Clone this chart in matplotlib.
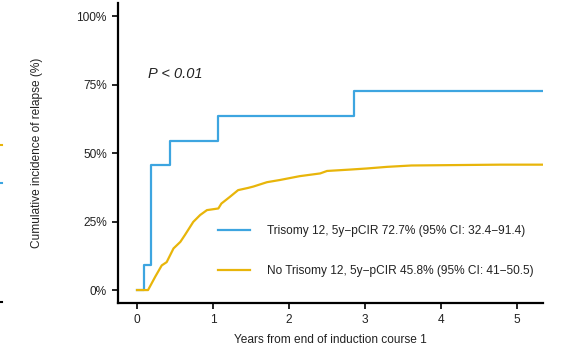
import matplotlib
matplotlib.use("Agg")
import matplotlib.pyplot as plt
from matplotlib.lines import Line2D

plt.rcParams['font.family'] = ['Liberation Sans', 'DejaVu Sans']

# Trisomy 12 cumulative incidence (step function)
tri_years = [0.0, 0.09, 0.18, 0.19, 0.43, 1.07, 2.85, 5.34]
tri_cir = [0.0, 9.1, 18.2, 45.5, 54.5, 63.6, 72.7, 72.7]

# No trisomy 12 cumulative incidence
no_years = [0.0, 0.145, 0.24, 0.325, 0.39, 0.48, 0.57, 0.63, 0.74, 0.83, 0.92,
            1.07, 1.11, 1.22, 1.33, 1.46, 1.53, 1.71, 1.88, 2.14, 2.41, 2.50,
            2.80, 3.02, 3.29, 3.61, 4.78, 5.34]
no_cir = [0.0, 0.0, 4.9, 9.0, 10.2, 15.2, 17.6, 20.1, 24.9, 27.4, 29.2,
          29.8, 31.6, 34.0, 36.5, 37.3, 37.8, 39.4, 40.2, 41.6, 42.6, 43.5,
          44.0, 44.4, 45.0, 45.5, 45.8, 45.8]

labels = ["Trisomy 12, 5y\u2212pCIR 72.7% (95% CI: 32.4\u221291.4)",
          "No Trisomy 12, 5y\u2212pCIR 45.8% (95% CI: 41\u221250.5)"]
colors = ["#3DA5E0", "#E8B50A"]

x_ticks = [0, 1, 2, 3, 4, 5]
y_ticks = [0, 25, 50, 75, 100]
y_ticklabels = ["0%", "25%", "50%", "75%", "100%"]

fig = plt.figure(figsize=(5.62, 3.47), dpi=100)
ax = fig.add_axes([0.21, 0.127, 0.756, 0.864])

ax.step(tri_years, tri_cir, where="post", color=colors[0], lw=1.6, label=labels[0])
ax.plot(no_years, no_cir, color=colors[1], lw=1.6, label=labels[1])

ax.set_xlim(-0.25, 5.34)
ax.set_ylim(-4.7, 104.8)
ax.set_xticks(x_ticks)
ax.set_yticks(y_ticks)
ax.set_yticklabels(y_ticklabels)
for s in ["top", "right"]:
    ax.spines[s].set_visible(False)
for s in ["left", "bottom"]:
    ax.spines[s].set_linewidth(1.6)
ax.tick_params(axis="both", direction="out", length=4, width=1.2,
               labelsize=8.6, colors="black", labelcolor="#222222", pad=4)

ax.set_xlabel("Years from end of induction course 1", fontsize=8.6, color="#222222", labelpad=6)
ax.set_ylabel("Cumulative incidence of relapse (%)", fontsize=8.6, color="#222222", labelpad=24)

ax.text(0.15, 77.5, "P < 0.01", fontsize=10.5, style="italic", color="#222222")

leg = ax.legend(loc="lower left", bbox_to_anchor=(0.235, 0.085), frameon=False,
                borderpad=0, borderaxespad=0,
                fontsize=8.6, handlelength=2.7, handletextpad=1.45, labelspacing=2.35)
for t in leg.get_texts():
    t.set_color("#222222")

# fragments of the neighbouring panel at the left edge
fig.add_artist(Line2D([0.0, 0.003], [0.582, 0.582], color=colors[1], lw=1.5))
fig.add_artist(Line2D([0.0, 0.003], [0.473, 0.473], color=colors[0], lw=1.5))
fig.add_artist(Line2D([0.0, 0.003], [0.13, 0.13], color="black", lw=1.5))

fig.savefig("out.png", dpi=100)
